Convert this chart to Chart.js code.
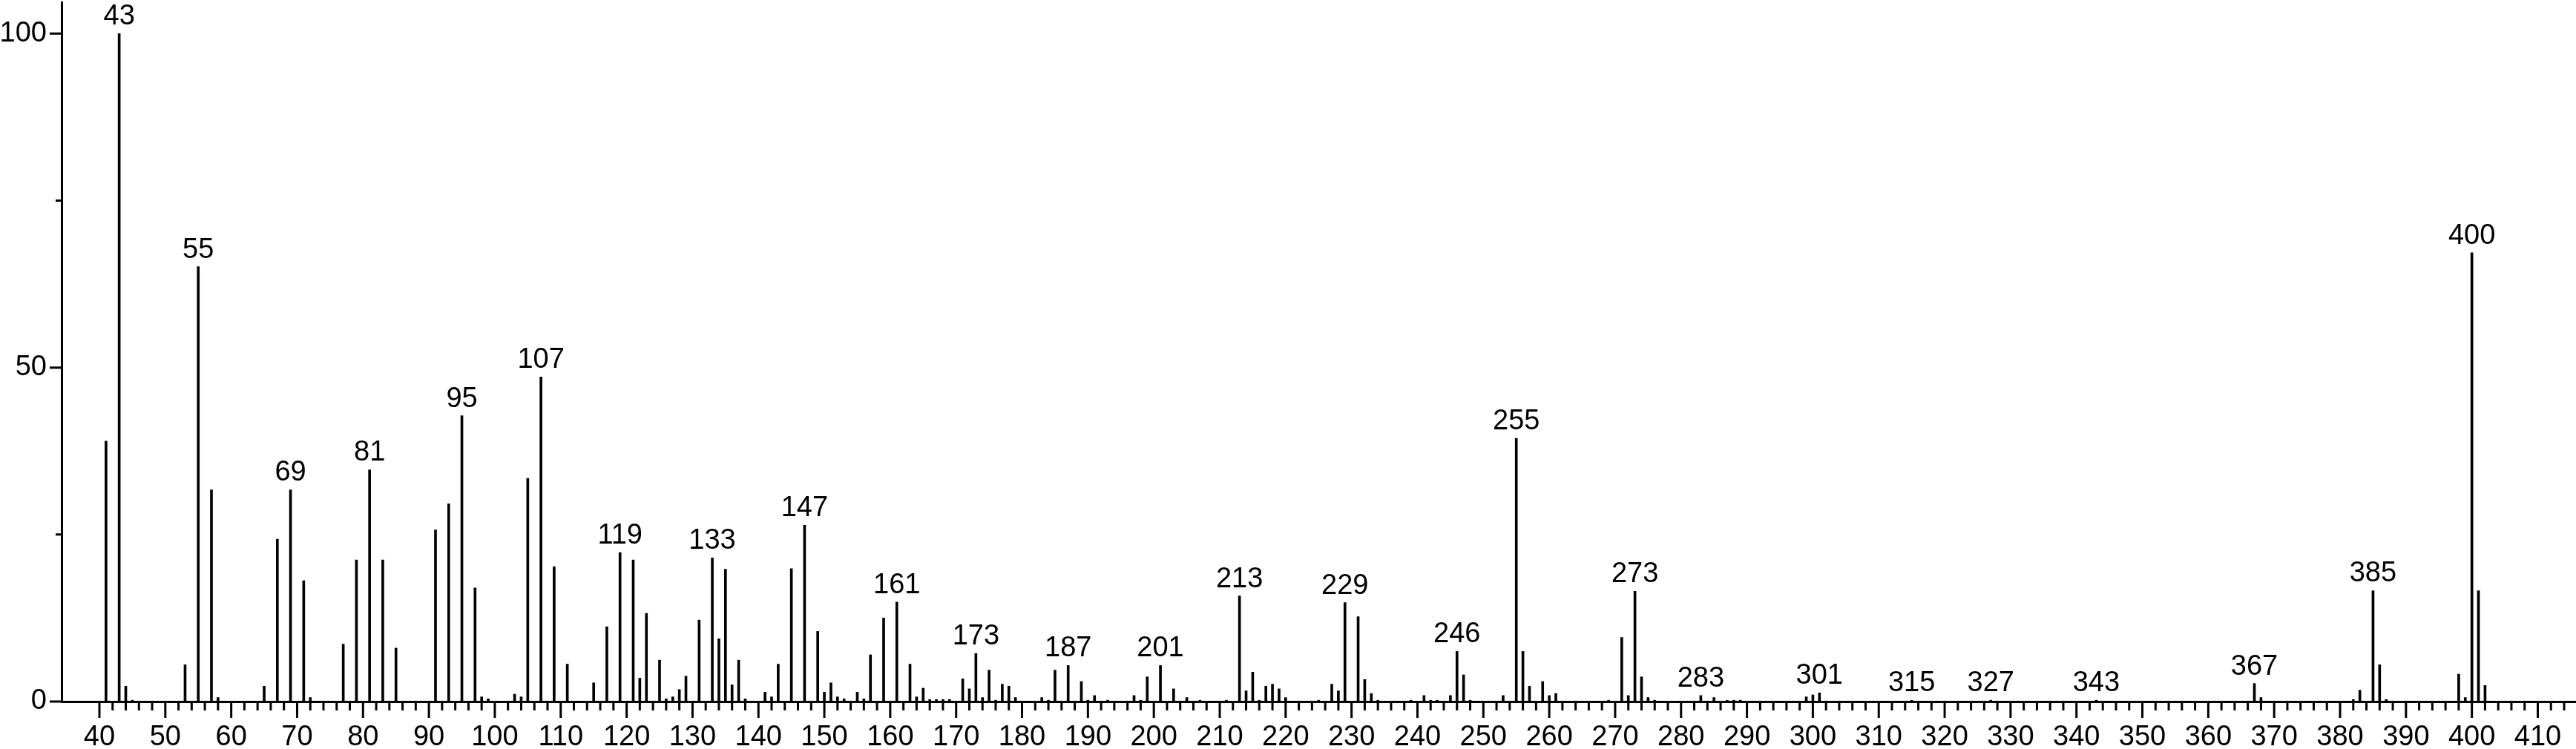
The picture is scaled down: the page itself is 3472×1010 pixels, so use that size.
<!DOCTYPE html>
<html>
<head>
<meta charset="utf-8">
<script src="https://cdn.jsdelivr.net/npm/chart.js@4/dist/chart.umd.min.js"></script>
<style>
  html, body { margin: 0; padding: 0; background: #fff; }
  #spectrum { display: block; }
</style>
</head>
<body>
<canvas id="spectrum" width="3472" height="1010"></canvas>
<script>
'use strict';

// m/z positions and relative intensities (%)
var mz = [
    41, 43, 44, 45, 53, 55, 57, 58, 65, 67, 69, 71, 72, 77, 79, 81, 83, 85,
    91, 93, 95, 97, 98, 99, 103, 104, 105, 107, 109, 111, 115, 117, 119, 121,
    122, 123, 125, 126, 127, 128, 129, 131, 133, 134, 135, 136, 137, 138,
    141, 142, 143, 145, 147, 149, 150, 151, 152, 153, 155, 156, 157, 159,
    161, 163, 164, 165, 166, 167, 168, 169, 171, 172, 173, 174, 175, 176,
    177, 178, 179, 183, 184, 185, 187, 189, 190, 191, 193, 197, 198, 199,
    201, 203, 205, 207, 211, 213, 214, 215, 216, 217, 218, 219, 220, 225,
    227, 228, 229, 231, 232, 233, 234, 239, 241, 242, 243, 245, 246, 247,
    248, 253, 255, 256, 257, 259, 260, 261, 269, 271, 272, 273, 274, 275,
    276, 283, 285, 287, 288, 289, 299, 300, 301, 315, 327, 343, 367, 368,
    382, 383, 385, 386, 387, 398, 399, 400, 401, 402
];
var intensity = [
    39.0, 100, 2.3, 0.2, 5.5, 65.1, 31.7, 0.6, 2.3, 24.3, 31.7, 18.1, 0.6, 8.6, 21.2, 34.7, 21.2, 8.0,
    25.7, 29.6, 42.8, 17.0, 0.7, 0.4, 1.1, 0.7, 33.4, 48.6, 20.2, 5.6, 2.8, 11.2, 22.3, 21.2,
    3.5, 13.2, 6.2, 0.4, 0.7, 1.8, 3.8, 12.2, 21.5, 9.4, 19.8, 2.5, 6.2, 0.4,
    1.4, 0.7, 5.6, 19.9, 26.4, 10.5, 1.4, 2.8, 0.7, 0.4, 1.4, 0.4, 7.0, 12.5,
    14.9, 5.6, 0.7, 2.0, 0.3, 0.3, 0.3, 0.3, 3.4, 1.9, 7.2, 0.6, 4.7, 0.2,
    2.6, 2.3, 0.6, 0.6, 0.2, 4.7, 5.4, 3.0, 0.2, 0.9, 0.2, 0.9, 0.2, 3.7,
    5.4, 1.9, 0.6, 0.2, 0.2, 15.8, 1.6, 4.4, 0.2, 2.3, 2.6, 1.9, 0.6, 0.2,
    2.6, 1.6, 14.8, 12.7, 3.3, 1.2, 0.2, 0.2, 0.9, 0.2, 0.2, 0.9, 7.5, 4.0,
    0.2, 0.9, 39.4, 7.5, 2.3, 3.0, 0.9, 1.2, 0.2, 9.6, 0.9, 16.5, 3.7, 0.6,
    0.2, 0.9, 0.6, 0.2, 0.2, 0.2, 0.7, 1.0, 1.3, 0.2, 0.2, 0.2, 2.7, 0.6,
    0.3, 1.7, 16.6, 5.5, 0.3, 4.1, 0.6, 67.2, 16.6, 2.4
];

// peaks that carry an m/z label above them
var labelledPeaks = [43, 55, 69, 81, 95, 107, 119, 133, 147, 161, 173, 187, 201,
    213, 229, 246, 255, 273, 283, 301, 315, 327, 343, 367, 385, 400];

var xTickLabels = [40, 50, 60, 70, 80, 90, 100, 110, 120, 130, 140, 150, 160, 170,
    180, 190, 200, 210, 220, 230, 240, 250, 260, 270, 280, 290, 300, 310, 320,
    330, 340, 350, 360, 370, 380, 390, 400, 410];
var yTicks = [0, 25, 50, 75, 100];
var yTickLabels = [0, 50, 100];

var FONT = "'Liberation Sans', Arial, sans-serif";

var tickMarks = {
    id: 'tickMarks',
    afterDraw: function(chart) {
        var ctx = chart.ctx;
        var xs = chart.scales.x, ys = chart.scales.y;
        var base = chart.chartArea.bottom, left = chart.chartArea.left;
        ctx.save();
        ctx.strokeStyle = '#000';
        ctx.lineWidth = 3;
        ctx.beginPath();
        for (var v = 40; v <= 414; v += 2) {
            var px = xs.getPixelForValue(v);
            var len = (v % 10 === 0) ? 22 : 12;
            ctx.moveTo(px, base);
            ctx.lineTo(px, base + len);
        }
        yTicks.forEach(function(t) {
            var py = ys.getPixelForValue(t);
            var len = (yTickLabels.indexOf(t) >= 0) ? 16 : 8;
            ctx.moveTo(left, py);
            ctx.lineTo(left - len, py);
        });
        ctx.stroke();
        ctx.restore();
    }
};

var peakLabels = {
    id: 'peakLabels',
    afterDatasetsDraw: function(chart) {
        var ctx = chart.ctx;
        var meta = chart.getDatasetMeta(0);
        ctx.save();
        ctx.fillStyle = '#000';
        ctx.font = '38px ' + FONT;
        ctx.textAlign = 'center';
        ctx.textBaseline = 'alphabetic';
        mz.forEach(function(m, i) {
            if (labelledPeaks.indexOf(m) < 0) return;
            var bar = meta.data[i];
            ctx.fillText(String(m), bar.x, bar.y - 12);
        });
        ctx.restore();
    }
};

var points = mz.map(function(m, i) { return { x: m, y: intensity[i] }; });

new Chart(document.getElementById('spectrum'), {
    type: 'bar',
    data: {
        datasets: [{
            data: points,
            backgroundColor: '#000',
            borderWidth: 0,
            barThickness: 3
        }]
    },
    options: {
        responsive: false,
        animation: false,
        devicePixelRatio: 1,
        layout: { padding: { top: 3, right: 0, left: 0, bottom: 0 } },
        plugins: {
            legend: { display: false },
            tooltip: { enabled: false }
        },
        scales: {
            x: {
                type: 'linear',
                offset: false,
                min: 34.26,
                max: 415.8,
                afterBuildTicks: function(s) {
                    s.ticks = xTickLabels.map(function(v) { return { value: v }; });
                },
                afterFit: function(s) {
                    s.height = 64;
                    s.paddingLeft = 0;
                    s.paddingRight = 0;
                },
                grid: { display: false, drawTicks: false, offset: false },
                border: { display: true, color: '#000', width: 3 },
                ticks: {
                    autoSkip: false,
                    maxRotation: 0,
                    padding: 26,
                    color: '#000',
                    font: { family: FONT, size: 38 }
                }
            },
            y: {
                min: 0,
                max: 104.7,
                afterBuildTicks: function(s) {
                    s.ticks = yTicks.map(function(v) { return { value: v }; });
                },
                afterFit: function(s) {
                    s.width = 83;
                    s.paddingTop = 0;
                    s.paddingBottom = 0;
                },
                grid: { display: false, drawTicks: false },
                border: { display: true, color: '#000', width: 3 },
                ticks: {
                    padding: 20,
                    color: '#000',
                    font: { family: FONT, size: 38 },
                    callback: function(v) {
                        return yTickLabels.indexOf(v) >= 0 ? String(v) : '';
                    }
                }
            }
        }
    },
    plugins: [tickMarks, peakLabels]
});
</script>
</body>
</html>
